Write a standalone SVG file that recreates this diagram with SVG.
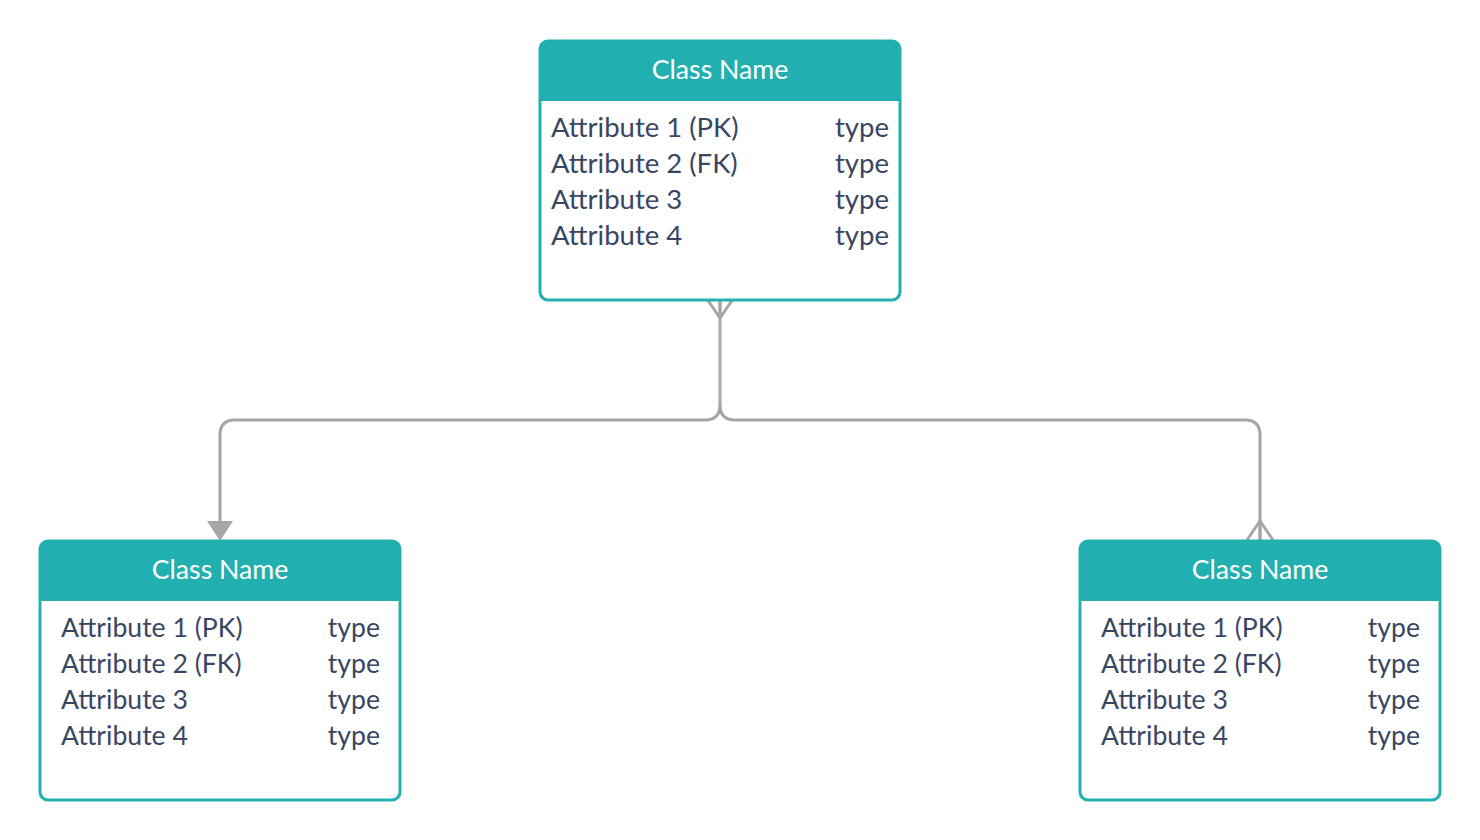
<svg xmlns="http://www.w3.org/2000/svg" width="1480" height="840" viewBox="0 0 1480 840">
<style>
.box{fill:#ffffff;stroke:#22afaf;stroke-width:3}
.hdr{fill:#22afaf}
.title{font-family:Lato,"Liberation Sans",sans-serif;font-size:26.7px;fill:#ffffff;text-anchor:middle}
.attr{font-family:Lato,"Liberation Sans",sans-serif;font-size:27.5px;fill:#3a4661}
.type{font-family:Lato,"Liberation Sans",sans-serif;font-size:27.5px;fill:#3a4661;text-anchor:end}
.sm{font-size:26.6px}
.conn{fill:none;stroke:#a6a6a6;stroke-width:3}
</style>
<rect width="1480" height="840" fill="#ffffff"/>
<g id="connectors">
<path class="conn" d="M720,300 V405 Q720,420 705,420 H235 Q220,420 220,435 V524"/>
<path class="conn" d="M720,405 Q720,420 735,420 H1245 Q1260,420 1260,435 V540"/>
<path class="conn" d="M707,299 L720,318 L733,299 M720,300 V318"/>
<polygon points="207,521 233,521 220,541" fill="#a6a6a6"/>
<path class="conn" d="M1247,540 L1260,521 L1273,540 M1260,521 V540"/>
</g>
<g id="node-top">
<rect class="box" x="540" y="41" width="360" height="259" rx="8"/>
<path class="hdr" d="M540,49 Q540,41 548,41 H892 Q900,41 900,49 V101 H540 Z"/>
<text class="title" x="720" y="79">Class Name</text>
<text class="attr" x="551" y="137">Attribute 1 (PK)</text>
<text class="attr" x="551" y="173">Attribute 2 (FK)</text>
<text class="attr" x="551" y="209">Attribute 3</text>
<text class="attr" x="551" y="245">Attribute 4</text>
<text class="type" x="889" y="137">type</text>
<text class="type" x="889" y="173">type</text>
<text class="type" x="889" y="209">type</text>
<text class="type" x="889" y="245">type</text>
</g>
<g id="node-left">
<rect class="box" x="40" y="541" width="360" height="259" rx="8"/>
<path class="hdr" d="M40,549 Q40,541 48,541 H392 Q400,541 400,549 V601 H40 Z"/>
<text class="title" x="220" y="579">Class Name</text>
<text class="attr sm" x="61" y="637">Attribute 1 (PK)</text>
<text class="attr sm" x="61" y="673">Attribute 2 (FK)</text>
<text class="attr sm" x="61" y="709">Attribute 3</text>
<text class="attr sm" x="61" y="745">Attribute 4</text>
<text class="type sm" x="380" y="637">type</text>
<text class="type sm" x="380" y="673">type</text>
<text class="type sm" x="380" y="709">type</text>
<text class="type sm" x="380" y="745">type</text>
</g>
<g id="node-right">
<rect class="box" x="1080" y="541" width="360" height="259" rx="8"/>
<path class="hdr" d="M1080,549 Q1080,541 1088,541 H1432 Q1440,541 1440,549 V601 H1080 Z"/>
<text class="title" x="1260" y="579">Class Name</text>
<text class="attr sm" x="1101" y="637">Attribute 1 (PK)</text>
<text class="attr sm" x="1101" y="673">Attribute 2 (FK)</text>
<text class="attr sm" x="1101" y="709">Attribute 3</text>
<text class="attr sm" x="1101" y="745">Attribute 4</text>
<text class="type sm" x="1420" y="637">type</text>
<text class="type sm" x="1420" y="673">type</text>
<text class="type sm" x="1420" y="709">type</text>
<text class="type sm" x="1420" y="745">type</text>
</g>
</svg>
